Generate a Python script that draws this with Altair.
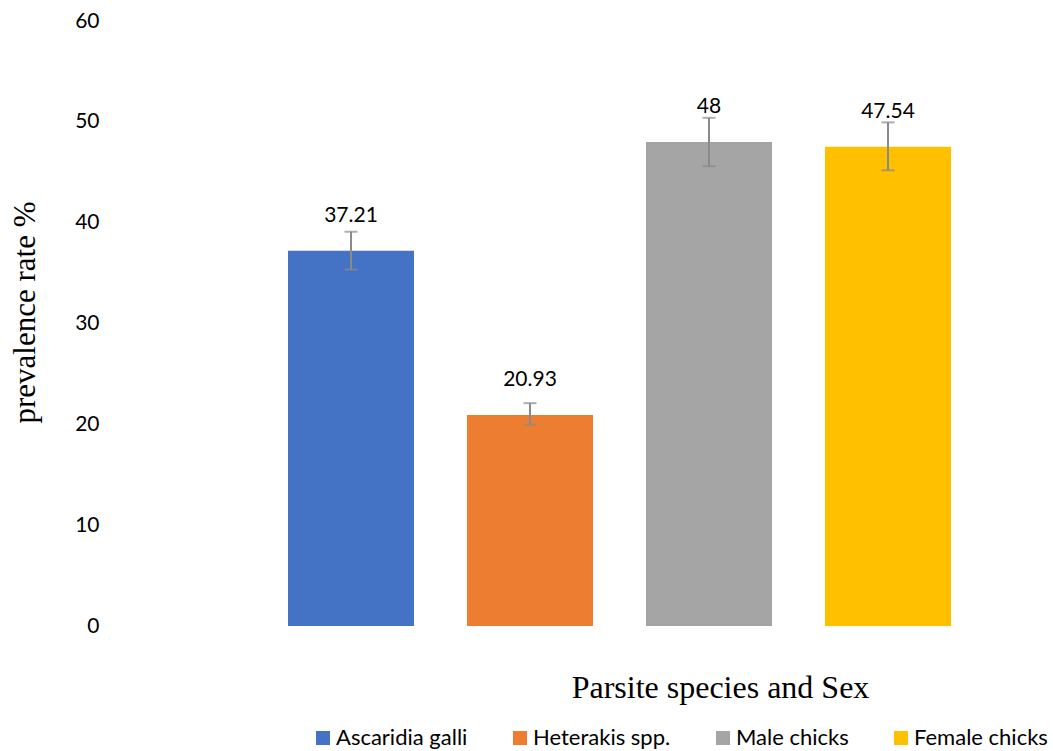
import altair as alt
import pandas as pd

categories = ["Ascaridia galli", "Heterakis spp.", "Male chicks", "Female chicks"]
values = [37.21, 20.93, 48, 47.54]
err_low = [35.35, 19.95, 45.6, 45.2]
err_high = [39.1, 22.1, 50.4, 49.95]
labels = ["37.21", "20.93", "48", "47.54"]
colors = ["#4472C4", "#ED7D31", "#A5A5A5", "#FFC000"]

df = pd.DataFrame({
    "cat": categories,
    "value": values,
    "low": err_low,
    "high": err_high,
    "label": labels,
})

x_enc = alt.X(
    "cat:N",
    sort=categories,
    scale=alt.Scale(paddingInner=0.2961, paddingOuter=0.4916),
    axis=alt.Axis(
        labels=False, ticks=False, domain=False, grid=False,
        title="Parsite species and Sex",
        titleFont="Liberation Serif", titleFontSize=32, titleFontWeight="normal",
        titleColor="black", titleX=520, titleY=71,
        titleBaseline="alphabetic", titleAlign="center",
    ),
)

y_axis = alt.Axis(
    values=[0, 10, 20, 30, 40, 50, 60], grid=False, ticks=False, domain=False,
    labelFont="Lato", labelFontSize=21, labelColor="black", labelPadding=101,
    title="prevalence rate %", titleFont="Liberation Serif", titleFontSize=31,
    titleFontWeight="normal", titleColor="black", titleAngle=270,
    titleX=-175, titleY=291, titleBaseline="middle", titleAlign="center",
)
y_scale = alt.Scale(domain=[0, 60], nice=False)

base = alt.Chart(df)

bars = base.mark_bar().encode(
    x=x_enc,
    y=alt.Y("value:Q", scale=y_scale, axis=y_axis),
    color=alt.Color(
        "cat:N",
        scale=alt.Scale(domain=categories, range=colors),
        legend=alt.Legend(
            title=None, orient="none", direction="horizontal",
            legendX=112, legendY=706, symbolType="square", symbolSize=196,
            symbolStrokeWidth=0, labelFont="Lato", labelFontSize=22,
            labelColor="black", labelOffset=2, columnPadding=41, padding=0,
        ),
    ),
)

err_color = "#8a8a8a"
stems = base.mark_rule(color=err_color, strokeWidth=2).encode(
    x=x_enc,
    y=alt.Y("low:Q", scale=y_scale, axis=y_axis),
    y2="high:Q",
)
caps_low = base.mark_tick(color=err_color, size=13, thickness=2).encode(
    x=x_enc, y=alt.Y("low:Q", scale=y_scale, axis=y_axis)
)
caps_high = base.mark_tick(color=err_color, size=13, thickness=2).encode(
    x=x_enc, y=alt.Y("high:Q", scale=y_scale, axis=y_axis)
)
texts = base.mark_text(
    dy=-29, baseline="alphabetic", font="Lato", fontSize=21, color="black"
).encode(
    x=x_enc,
    y=alt.Y("value:Q", scale=y_scale, axis=y_axis),
    text="label:N",
)

chart = (
    alt.layer(bars, stems, caps_low, caps_high, texts)
    .properties(
        width=839, height=605,
        autosize=alt.AutoSizeParams(type="none"),
        padding={"left": 200, "top": 21, "right": 14, "bottom": 125},
        background="white",
    )
    .configure_view(stroke=None)
)

chart.save("out.html", embed_options={"renderer": "svg", "actions": False})
